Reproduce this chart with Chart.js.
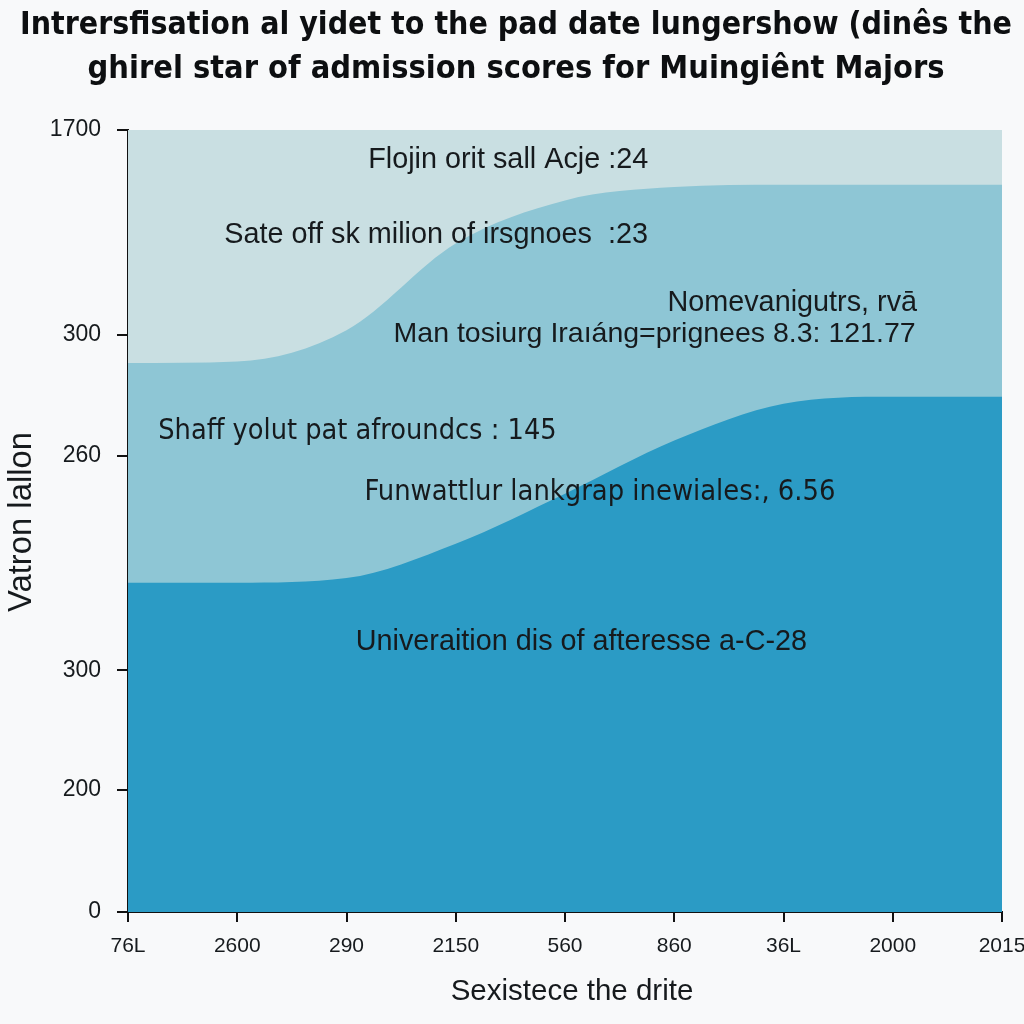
<!DOCTYPE html>
<html>
<head>
<meta charset="utf-8">
<title>Admission scores area chart</title>
<script src="https://cdn.jsdelivr.net/npm/chart.js@4.4.1/dist/chart.umd.min.js"></script>
<style>
  html, body { margin: 0; padding: 0; background: #f8f9fa; }
  #wrap { width: 1024px; height: 1024px; }
</style>
</head>
<body>
<div id="wrap"><canvas id="areaChart" width="1024" height="1024"></canvas></div>
<script>
// x-axis categories, as printed under the axis
const xLabels = ['76L', '2600', '290', '2150', '560', '860', '36L', '2000', '2015'];

// the three layers (share of plot height)
const baseSeries = [42.1, 42.1, 42.7, 47.1, 53.5, 60.3, 65.0, 65.9, 65.9];
const middleSeries = [70.2, 70.4, 74.4, 85.5, 91.0, 92.7, 93.0, 93.0, 93.0];
const topSeries = [100, 100, 100, 100, 100, 100, 100, 100, 100];

// y-axis ticks: where they sit, and what they say
const yTickValues = [0, 15.6, 30.9, 58.3, 73.8, 100];
const yTickLabels = ['0', '200', '300', '260', '300', '1700'];

const titleLines = [
    'Intrersfisation al yidet to the pad date lungershow (dinês the',
    'ghirel star of admission scores for Muingiênt Majors'
];
const yTitle = 'Vatron lallon';
const xTitle = 'Sexistece the drite';

// labels written inside the areas (x = category index, y = value)
const notes = [
    { text: 'Flojin orit sall Acje :24', x: 3.48, y: 96.2, w: 282 },
    { text: 'Sate off sk milion of irsgnoes  :23', x: 2.82, y: 86.6, w: 426 },
    { text: 'Nomevanigutrs, rvā', x: 6.08, y: 77.9, w: 251 },
    { text: 'Man tosiurg Iraıáng=prignees 8.3: 121.77', x: 4.82, y: 73.9, w: 522 },
    { text: 'Shaff yolut pat afroundcs : 145', x: 2.10, y: 61.5, w: 399, narrow: true },
    { text: 'Funwattlur lankgrap inewiales:, 6.56', x: 4.32, y: 53.7, w: 471, narrow: true },
    { text: 'Univeraition dis of afteresse a-C-28', x: 4.15, y: 34.5, w: 453 }
];

const SANS = "'Liberation Sans', Arial, sans-serif";
const NARROW = "'Liberation Sans Narrow', 'DejaVu Sans Condensed', sans-serif";

// draw text scaled so it spans roughly the given width
function fitText(ctx, text, x, y, width, size, weight, family) {
    ctx.font = weight + ' ' + size + 'px ' + family;
    const measured = ctx.measureText(text).width;
    let k = width / measured;
    k = Math.max(0.85, Math.min(1.2, k));
    ctx.font = weight + ' ' + (size * k).toFixed(1) + 'px ' + family;
    ctx.fillText(text, x, y, width);
}

const textPlugin = {
    id: 'textPlugin',
    afterDatasetsDraw(chart) {
        const ctx = chart.ctx;
        const xs = chart.scales.x;
        const ys = chart.scales.y;
        ctx.save();
        ctx.fillStyle = '#161a1d';
        ctx.textAlign = 'center';
        ctx.textBaseline = 'middle';
        notes.forEach(n => {
            fitText(ctx, n.text, xs.getPixelForValue(n.x), ys.getPixelForValue(n.y), n.w, 24, 'normal', n.narrow ? NARROW : SANS);
        });
        ctx.restore();
    },
    afterDraw(chart) {
        const ctx = chart.ctx;
        ctx.save();
        ctx.fillStyle = '#0d0f11';
        ctx.textAlign = 'center';
        ctx.textBaseline = 'middle';
        fitText(ctx, titleLines[0], 516, 26, 992, 35, 'bold', NARROW);
        fitText(ctx, titleLines[1], 516, 70, 857, 35, 'bold', NARROW);

        ctx.fillStyle = '#161a1d';
        fitText(ctx, xTitle, 572, 992, 243, 26, 'normal', SANS);

        ctx.translate(22, 522);
        ctx.rotate(-Math.PI / 2);
        fitText(ctx, yTitle, 0, 0, 180, 28, 'normal', SANS);
        ctx.restore();
    }
};

function layer(values, colour) {
    return {
        data: values,
        backgroundColor: colour,
        borderWidth: 0,
        pointRadius: 0,
        fill: 'origin',
        cubicInterpolationMode: 'monotone'
    };
}

document.addEventListener('DOMContentLoaded', function() {
    new Chart(document.getElementById('areaChart'), {
        type: 'line',
        data: {
            labels: xLabels,
            // first dataset is painted last, so the darkest layer goes first
            datasets: [
                layer(baseSeries, '#2b9bc5'),
                layer(middleSeries, '#8ec6d5'),
                layer(topSeries, '#c9dfe2')
            ]
        },
        options: {
            responsive: false,
            animation: false,
            layout: { padding: { top: 130, right: 22, left: 0, bottom: 0 } },
            plugins: {
                legend: { display: false },
                tooltip: { enabled: false }
            },
            scales: {
                x: {
                    offset: false,
                    grid: { drawOnChartArea: false, color: '#111', lineWidth: 2, tickLength: 10 },
                    border: { color: '#111', width: 2 },
                    ticks: {
                        color: '#161a1d',
                        font: { family: SANS, size: 21 },
                        padding: 12,
                        maxRotation: 0,
                        autoSkip: false
                    },
                    afterFit: s => {
                        s.height = 112;
                        s.paddingLeft = 0;
                        s.paddingRight = 0;
                    }
                },
                y: {
                    min: 0,
                    max: 100,
                    afterBuildTicks: s => { s.ticks = yTickValues.map(v => ({ value: v })); },
                    grid: { drawOnChartArea: false, color: '#111', lineWidth: 2, tickLength: 11 },
                    border: { color: '#111', width: 2 },
                    ticks: {
                        color: '#161a1d',
                        font: { family: SANS, size: 23 },
                        padding: 16,
                        callback: v => yTickLabels[yTickValues.indexOf(v)]
                    },
                    afterFit: s => { s.width = 128; }
                }
            }
        },
        plugins: [textPlugin]
    });
});
</script>
</body>
</html>
